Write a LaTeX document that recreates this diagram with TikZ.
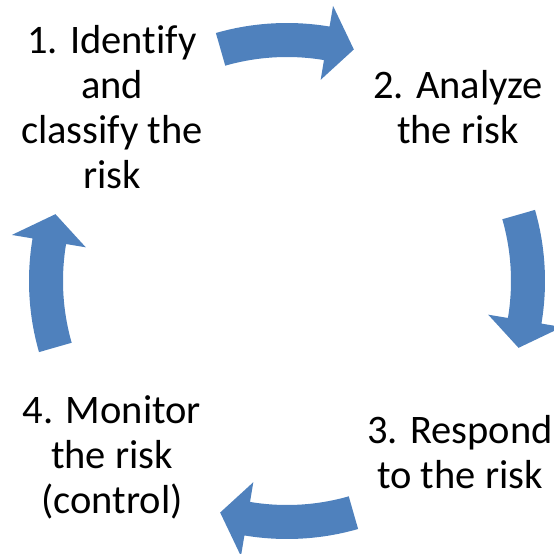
\documentclass[tikz,border=0pt]{standalone}
\usepackage{fontspec}
\setmainfont[Ligatures=CommonOff]{Carlito}
\definecolor{cycleblue}{RGB}{79,129,189}
\begin{document}
\begin{tikzpicture}[x=1pt, y=1pt,
	steplabel/.style={align=center, inner sep=0pt, font=\fontsize{40.5}{45}\selectfont}]
	\useasboundingbox (-287,-273) rectangle (267,281);
	% four curved arrows, turned by 90 degrees each
	\foreach \i in {0,1,2,3} {
		\begin{scope}[rotate=-90*\i]
			\fill[cycleblue] (106:258) arc [start angle=106, end angle=80.5, radius=258]
				-- (80.5:279) -- (73.9:241) -- (80.5:204) -- (80.5:224)
				arc [start angle=80.5, end angle=106, radius=224] -- cycle;
		\end{scope}
	}
	\node[steplabel] (identify) at (-175,174) {1. Identify\\and\\classify the\\risk};
	\node[steplabel] (analyze) at (171,174) {2. Analyze\\the risk};
	\node[steplabel] (respond) at (173,-171) {3. Respond\\to the risk};
	\node[steplabel] (monitor) at (-175,-176) {4. Monitor\\the risk\\(control)};
\end{tikzpicture}
\end{document}
